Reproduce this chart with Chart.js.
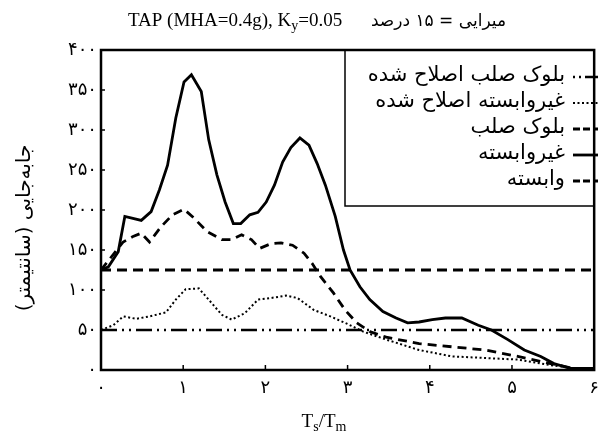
<!DOCTYPE html>
<html>
<head>
<meta charset="utf-8">
<script src="https://cdn.jsdelivr.net/npm/chart.js@4/dist/chart.umd.min.js"></script>
<style>
    body { margin: 0; background: #fff; }
    #chart-box { width: 607px; height: 439px; }
</style>
</head>
<body>
<div id="chart-box"><canvas id="chart-box-canvas"></canvas></div>
<script>
// Ts/Tm ratio and displacement
var unbondedT = [0, 0.09, 0.21, 0.29, 0.49, 0.61, 0.71, 0.81, 0.91, 1.01, 1.10, 1.22, 1.31, 1.41, 1.51, 1.61, 1.70, 1.81, 1.91, 2.01, 2.11, 2.21, 2.31, 2.42, 2.53, 2.63, 2.73, 2.85, 2.95, 3.03, 3.15, 3.27, 3.43, 3.59, 3.73, 3.87, 4.03, 4.19, 4.39, 4.59, 4.75, 4.95, 5.15, 5.35, 5.51, 5.71, 6.0];
var unbondedDisp = [125, 129, 148, 192, 187, 198, 225, 256, 315, 360, 369, 348, 288, 244, 210, 183, 183, 194, 197, 210, 231, 260, 278, 290, 281, 258, 231, 192, 150, 125, 104, 88, 73, 65, 59, 60, 63, 65, 65, 56, 50, 38, 25, 17, 8, 2, 2];

var bondedT = [0, 0.27, 0.39, 0.49, 0.59, 0.73, 0.87, 1.01, 1.13, 1.29, 1.47, 1.59, 1.71, 1.83, 1.93, 2.07, 2.19, 2.33, 2.47, 2.57, 2.67, 2.83, 2.97, 3.11, 3.27, 3.47, 3.87, 4.27, 4.67, 5.07, 5.47, 5.75, 6.0];
var bondedDisp = [125, 160, 167, 171, 160, 179, 194, 201, 190, 173, 163, 163, 169, 163, 152, 158, 159, 156, 146, 133, 117, 96, 75, 59, 48, 41, 33, 29, 25, 17, 8, 2, 0];

var unbondedModT = [0, 0.15, 0.27, 0.43, 0.59, 0.79, 0.91, 1.03, 1.19, 1.31, 1.47, 1.59, 1.75, 1.91, 2.07, 2.25, 2.39, 2.59, 2.79, 2.99, 3.19, 3.47, 3.87, 4.27, 4.67, 5.07, 5.47, 5.79, 6.0];
var unbondedModDisp = [50, 56, 67, 64, 67, 72, 88, 101, 102, 88, 69, 63, 71, 88, 90, 93, 90, 75, 67, 58, 48, 38, 25, 17, 15, 13, 6, 2, 0];

var rigidT = [0, 6];
var rigidDisp = [125, 125];
var rigidModT = [0, 6];
var rigidModDisp = [50, 50];

var seriesLabels = ['بلوک صلب اصلاح شده', 'غیروابسته اصلاح شده', 'بلوک صلب', 'غیروابسته', 'وابسته'];
var yTicks = [0, 50, 100, 150, 200, 250, 300, 350, 400];
var xTicks = [0, 1, 2, 3, 4, 5, 6];

var faDigits = '۰۱۲۳۴۵۶۷۸۹';
function toPersian(n) {
    return String(n).replace(/[0-9]/g, function (d) { return faDigits[+d]; });
}

function points(xs, ys) {
    return xs.map(function (x, i) { return { x: x, y: ys[i] }; });
}

var persianFont = '"DejaVu Sans", sans-serif';
var latinFont = '"Liberation Serif", "Times New Roman", serif';

var decorPlugin = {
    id: 'decor',
    beforeDraw: function (chart) {
        var ctx = chart.ctx;
        ctx.save();
        ctx.fillStyle = '#fff';
        ctx.fillRect(0, 0, chart.width, chart.height);
        ctx.restore();
    },
    afterDatasetsDraw: function (chart) {
        var ctx = chart.ctx;
        var a = chart.chartArea;
        var xs = chart.scales.x, ys = chart.scales.y;
        ctx.save();
        ctx.strokeStyle = '#000';

        // inner tick marks
        ctx.lineWidth = 1.5;
        yTicks.forEach(function (v) {
            var py = ys.getPixelForValue(v);
            ctx.beginPath();
            ctx.moveTo(a.left, py);
            ctx.lineTo(a.left + 4, py);
            ctx.stroke();
        });
        xTicks.forEach(function (v) {
            var px = xs.getPixelForValue(v);
            ctx.beginPath();
            ctx.moveTo(px, a.bottom);
            ctx.lineTo(px, a.bottom - 5);
            ctx.stroke();
        });

        // legend box
        var boxL = 345, boxB = 206;
        ctx.lineWidth = 1.5;
        ctx.fillStyle = '#fff';
        ctx.fillRect(boxL, a.top, a.right - boxL, boxB - a.top);
        ctx.strokeRect(boxL, a.top, a.right - boxL, boxB - a.top);
        chart.data.datasets.forEach(function (ds, i) {
            var cy = 77 + i * 26;
            ctx.save();
            ctx.lineWidth = ds.borderWidth;
            ctx.setLineDash(ds.legendDash || ds.borderDash || []);
            ctx.beginPath();
            ctx.moveTo(573, cy);
            ctx.lineTo(598, cy);
            ctx.stroke();
            ctx.restore();
            ctx.fillStyle = '#000';
            ctx.font = '21px ' + persianFont;
            ctx.direction = 'rtl';
            ctx.textAlign = 'right';
            ctx.textBaseline = 'middle';
            ctx.fillText(ds.label, 565, cy - 1);
        });

        // frame
        ctx.lineWidth = 2.5;
        ctx.setLineDash([]);
        ctx.strokeRect(a.left, a.top, a.right - a.left, a.bottom - a.top);
        ctx.restore();
    },
    afterDraw: function (chart) {
        var ctx = chart.ctx;
        ctx.save();
        ctx.fillStyle = '#000';
        ctx.textBaseline = 'alphabetic';

        // title, latin part with subscript
        ctx.direction = 'ltr';
        ctx.textAlign = 'left';
        var x = 128, base = 26;
        ctx.font = '19px ' + latinFont;
        var t1 = 'TAP (MHA=0.4g), K';
        ctx.fillText(t1, x, base);
        x += ctx.measureText(t1).width;
        ctx.font = '14px ' + latinFont;
        ctx.fillText('y', x, base + 4);
        x += ctx.measureText('y').width;
        ctx.font = '19px ' + latinFont;
        ctx.fillText('=0.05', x, base);

        // title, persian part
        ctx.font = '17px ' + persianFont;
        ctx.direction = 'rtl';
        ctx.textAlign = 'right';
        ctx.fillText('میرایی = ۱۵ درصد', 506, base);

        // x axis title Ts/Tm
        ctx.direction = 'ltr';
        ctx.textAlign = 'left';
        var parts = [['T', 19, 0], ['s', 14, 4], ['/T', 19, 0], ['m', 14, 4]];
        var w = 0;
        parts.forEach(function (p) { ctx.font = p[1] + 'px ' + latinFont; w += ctx.measureText(p[0]).width; });
        x = 324 - w / 2;
        parts.forEach(function (p) {
            ctx.font = p[1] + 'px ' + latinFont;
            ctx.fillText(p[0], x, 427 + p[2]);
            x += ctx.measureText(p[0]).width;
        });

        // y axis title
        ctx.translate(25, 228);
        ctx.rotate(-Math.PI / 2);
        ctx.font = '20px ' + persianFont;
        ctx.direction = 'rtl';
        ctx.textAlign = 'center';
        ctx.textBaseline = 'middle';
        ctx.fillText('جابه‌جایی (سانتیمتر)', 0, 0);
        ctx.restore();
    }
};

var datasets = [
    { label: seriesLabels[0], data: points(rigidModT, rigidModDisp), borderWidth: 2.5, borderDash: [16, 5, 2, 5, 2, 5], legendDash: [2, 4, 2, 4, 14] },
    { label: seriesLabels[1], data: points(unbondedModT, unbondedModDisp), borderWidth: 2, borderDash: [2, 2.5] },
    { label: seriesLabels[2], data: points(rigidT, rigidDisp), borderWidth: 3, borderDash: [10, 6], legendDash: [7, 3] },
    { label: seriesLabels[3], data: points(unbondedT, unbondedDisp), borderWidth: 2.8 },
    { label: seriesLabels[4], data: points(bondedT, bondedDisp), borderWidth: 2.8, borderDash: [9, 6], legendDash: [7, 3] }
];
datasets.forEach(function (ds) {
    ds.borderColor = '#000';
    ds.backgroundColor = '#000';
    ds.pointRadius = 0;
    ds.fill = false;
    ds.tension = 0;
});

var ctx = document.getElementById('chart-box-canvas').getContext('2d');
var chart = new Chart(ctx, {
    type: 'line',
    data: { datasets: datasets },
    options: {
        responsive: true,
        maintainAspectRatio: false,
        animation: false,
        layout: { padding: { top: 50, right: 6, left: 0, bottom: 0 } },
        plugins: {
            legend: { display: false },
            tooltip: { enabled: false }
        },
        scales: {
            x: {
                type: 'linear',
                min: 0,
                max: 6,
                afterFit: function (scale) { scale.height = 69; },
                afterBuildTicks: function (scale) { scale.ticks = xTicks.map(function (v) { return { value: v }; }); },
                grid: { display: false, drawTicks: false },
                border: { display: false },
                ticks: {
                    padding: 8,
                    color: '#000',
                    font: { family: persianFont, size: 18 },
                    callback: function (v) { return toPersian(v); }
                }
            },
            y: {
                min: 0,
                max: 400,
                afterFit: function (scale) { scale.width = 101; },
                afterBuildTicks: function (scale) { scale.ticks = yTicks.map(function (v) { return { value: v }; }); },
                grid: { display: false, drawTicks: false },
                border: { display: false },
                ticks: {
                    padding: 4,
                    color: '#000',
                    font: { family: persianFont, size: 18 },
                    callback: function (v) { return toPersian(v); }
                }
            }
        }
    },
    plugins: [decorPlugin]
});
</script>
</body>
</html>
